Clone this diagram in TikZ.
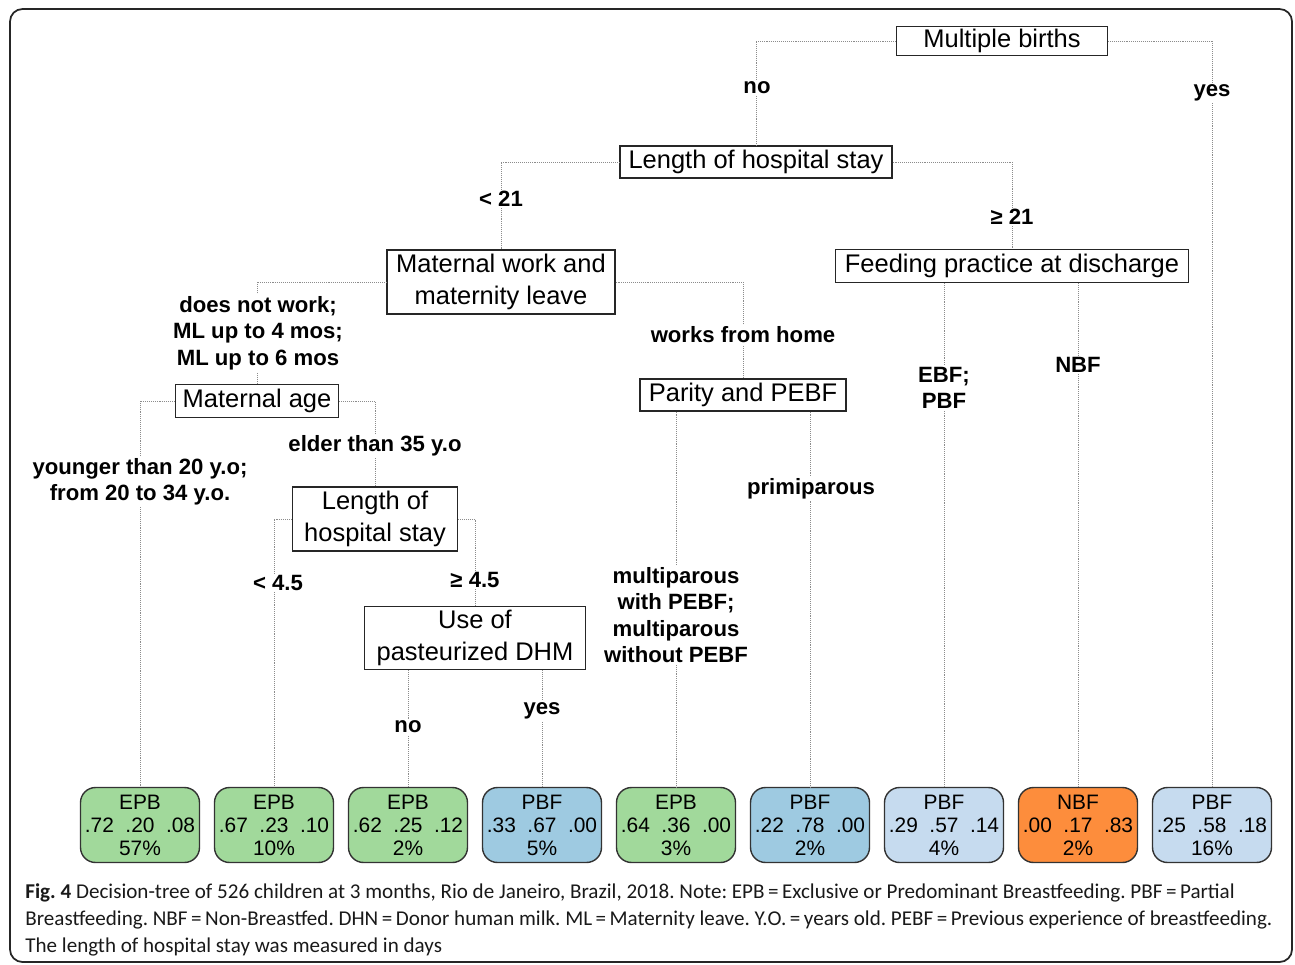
\documentclass[tikz,border=0pt]{standalone}
\usepackage{fontspec}
\setmainfont{Liberation Sans}
\newfontfamily\capfont{Carlito}
\usetikzlibrary{calc}
\definecolor{epbgreen}{HTML}{A1D99B}
\definecolor{pbfblue}{HTML}{9ECAE1}
\definecolor{pbflight}{HTML}{C6DBEF}
\definecolor{nbforange}{HTML}{FD8D3C}
\def\gap{\hspace{0.55em}}
\frenchspacing

\begin{document}
\begin{tikzpicture}[x=0.02cm,y=-0.02cm,
	split/.style={draw=black!85,line width=0.7pt,inner sep=0pt,align=center,font=\fontsize{14.5}{18}\selectfont},
	leaf/.style={draw=black!80,line width=0.8pt,rounded corners=0.3cm,minimum width=2.38cm,minimum height=1.5cm,inner sep=0pt,align=center,font=\fontsize{11.9}{13.1}\selectfont},
	link/.style={black!45,line width=0.5pt,dash pattern=on 0.5pt off 0.6pt},
	cond/.style={fill=white,inner sep=1pt,align=center,font=\bfseries\fontsize{12.6}{15.1}\selectfont},
	capline/.style={anchor=base west,inner sep=0pt,black!90,font=\capfont\fontsize{12}{14}\selectfont}]
			%%%%% START %%%%%
			
			\useasboundingbox (0,0) rectangle (1295,964);
			\draw[black!85,line width=1pt,rounded corners=0.25cm] (10,9) rectangle (1292,962);
			
			% splits
			\node[split,minimum width=4.22cm,minimum height=0.58cm] (mb) at (1002,41) {Multiple births};
			\node[split,minimum width=5.44cm,minimum height=0.64cm] (los) at (756,162) {Length of hospital stay};
			\node[split,minimum width=4.56cm,minimum height=1.28cm] (mw) at (501,282) {Maternal work and\\maternity leave};
			\node[split,minimum width=7.06cm,minimum height=0.66cm] (fp) at (1012,266) {Feeding practice at discharge};
			\node[split,minimum width=3.26cm,minimum height=0.66cm] (ma) at (257,401) {Maternal age};
			\node[split,minimum width=4.12cm,minimum height=0.64cm] (par) at (743,395) {Parity and PEBF};
			\node[split,minimum width=3.30cm,minimum height=1.28cm] (los2) at (375,519) {Length of\\hospital stay};
			\node[split,minimum width=4.42cm,minimum height=1.26cm] (dhm) at (475,638) {Use of\\pasteurized DHM};
			
			% leaves
			\node[leaf,fill=epbgreen] (l1) at (140,825) {EPB\\.72\gap.20\gap.08\\57\%};
			\node[leaf,fill=epbgreen] (l2) at (274,825) {EPB\\.67\gap.23\gap.10\\10\%};
			\node[leaf,fill=epbgreen] (l3) at (408,825) {EPB\\.62\gap.25\gap.12\\2\%};
			\node[leaf,fill=pbfblue] (l4) at (542,825) {PBF\\.33\gap.67\gap.00\\5\%};
			\node[leaf,fill=epbgreen] (l5) at (676,825) {EPB\\.64\gap.36\gap.00\\3\%};
			\node[leaf,fill=pbfblue] (l6) at (810,825) {PBF\\.22\gap.78\gap.00\\2\%};
			\node[leaf,fill=pbflight] (l7) at (944,825) {PBF\\.29\gap.57\gap.14\\4\%};
			\node[leaf,fill=nbforange] (l8) at (1078,825) {NBF\\.00\gap.17\gap.83\\2\%};
			\node[leaf,fill=pbflight] (l9) at (1212,825) {PBF\\.25\gap.58\gap.18\\16\%};
			
			% links
			\draw[link] (mb.west) -| (los.north);
			\draw[link] (mb.east) -| (l9.north);
			\draw[link] (los.west) -| (mw.north);
			\draw[link] (los.east) -| (fp.north);
			\draw[link] (mw.west) -| (ma.north);
			\draw[link] (mw.east) -| (par.north);
			\draw[link] (ma.west) -| (l1.north);
			\draw[link] (ma.east) -| (los2.north);
			\draw[link] (los2.west) -| (l2.north);
			\draw[link] (los2.east) -| (dhm.north);
			\draw[link] (l3.north |- dhm.south) -- (l3.north);
			\draw[link] (l4.north |- dhm.south) -- (l4.north);
			\draw[link] (l5.north |- par.south) -- (l5.north);
			\draw[link] (l6.north |- par.south) -- (l6.north);
			\draw[link] (l7.north |- fp.south) -- (l7.north);
			\draw[link] (l8.north |- fp.south) -- (l8.north);
			
			% conditions
			\node[cond] (no1) at (757,88) {no};
			\node[cond] (yes1) at (1212,93) {yes};
			\node[cond] (lt21) at (501,199) {< 21};
			\node[cond] (ge21) at (1012,217) {≥ 21};
			\node[cond] (work) at (258,333) {does not work;\\ML up to 4 mos;\\ML up to 6 mos};
			\node[cond] (home) at (743,335) {works from home};
			\node[cond] (young) at (140,482) {younger than 20 y.o;\\from 20 to 34 y.o.};
			\node[cond] (elder) at (375,446) {elder than 35 y.o};
			\node[cond] (lt45) at (278,583) {< 4.5};
			\node[cond] (ge45) at (475,580) {≥ 4.5};
			\node[cond] (no2) at (408,727) {no};
			\node[cond] (yes2) at (542,711) {yes};
			\node[cond] (multi) at (676,615) {multiparous\\with PEBF;\\multiparous\\without PEBF};
			\node[cond] (primi) at (811,489) {primiparous};
			\node[cond] (ebf) at (944,388) {EBF;\\PBF};
			\node[cond] (nbf) at (1078,365) {NBF};
			
			% caption
			\node[capline] (cap1) at (25,898) {\textbf{Fig. 4} Decision-tree of 526 children at 3 months, Rio de Janeiro, Brazil, 2018. Note: EPB\,=\,Exclusive or Predominant Breastfeeding. PBF\,=\,Partial};
			\node[capline] (cap2) at (25,925) {Breastfeeding. NBF\,=\,Non-Breastfed. DHN\,=\,Donor human milk. ML\,=\,Maternity leave. Y.O.\,=\,years old. PEBF\,=\,Previous experience of breastfeeding.};
			\node[capline] (cap3) at (25,952) {The length of hospital stay was measured in days};
			
			%%%%% END %%%%%
		\end{tikzpicture}
\end{document}
